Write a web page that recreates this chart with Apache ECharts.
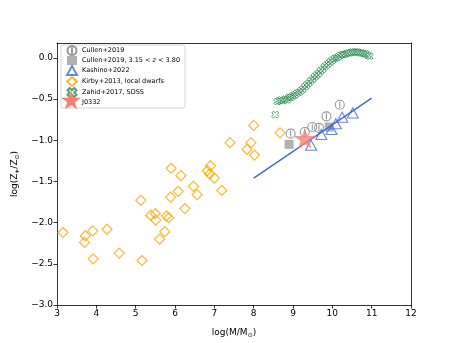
<!DOCTYPE html>
<html>
<head>
<meta charset="utf-8">
<script src="https://cdn.jsdelivr.net/npm/echarts@6/dist/echarts.min.js"></script>
<style>
    html, body {margin: 0; padding: 0; background: #fff;}
    #main {width: 457px; height: 343px;}
</style>
</head>
<body>
<div id="main"></div>
<script>
// 数据
let cullen = [[8.94, -0.92], [9.30, -0.90], [9.49, -0.84], [9.66, -0.85], [9.85, -0.71], [10.19, -0.57]];
let cullenHighZ = [[8.90, -1.05], [9.92, -0.84]];
let kashino = [[9.46, -1.06], [9.72, -0.93], [9.98, -0.87], [10.09, -0.80], [10.25, -0.72], [10.52, -0.67]];
let kashinoFit = [[8.0, -1.46], [11.0, -0.49]];
let kirby = [
    [3.15, -2.12], [3.72, -2.16], [3.70, -2.24], [3.91, -2.10], [3.92, -2.44], [4.27, -2.08],
    [4.58, -2.37], [5.13, -1.73], [5.16, -2.46], [5.38, -1.91], [5.50, -1.89], [5.51, -1.97],
    [5.74, -2.11], [5.61, -2.20], [5.78, -1.92], [5.84, -1.94], [5.90, -1.34], [5.89, -1.69],
    [6.15, -1.43], [6.08, -1.62], [6.25, -1.83], [6.47, -1.56], [6.56, -1.66], [6.82, -1.37],
    [6.90, -1.31], [6.88, -1.41], [7.00, -1.46], [7.19, -1.61], [7.40, -1.03], [7.83, -1.11],
    [7.93, -1.03], [8.00, -0.82], [8.02, -1.18], [8.67, -0.91]
];
let zahid = [
    [8.55, -0.69], [8.60, -0.53], [8.65, -0.52], [8.70, -0.51], [8.75, -0.52], [8.80, -0.50],
    [8.85, -0.51], [8.90, -0.48], [8.95, -0.48], [9.00, -0.46], [9.05, -0.45], [9.10, -0.43],
    [9.15, -0.42], [9.20, -0.40], [9.25, -0.38], [9.30, -0.35], [9.35, -0.33], [9.40, -0.31],
    [9.45, -0.28], [9.50, -0.26], [9.55, -0.23], [9.60, -0.21], [9.65, -0.19], [9.70, -0.16],
    [9.75, -0.14], [9.80, -0.11], [9.85, -0.09], [9.90, -0.07], [9.95, -0.05], [10.00, -0.03],
    [10.05, -0.01], [10.10, 0.00], [10.15, 0.01], [10.20, 0.03], [10.25, 0.04], [10.30, 0.04],
    [10.35, 0.05], [10.40, 0.06], [10.45, 0.06], [10.50, 0.07], [10.55, 0.07], [10.60, 0.07],
    [10.65, 0.07], [10.70, 0.06], [10.75, 0.06], [10.80, 0.05], [10.85, 0.05], [10.90, 0.03],
    [10.95, 0.02]
];
let j0332 = [[9.30, -0.98]];
let yTicks = [-3.0, -2.5, -2.0, -1.5, -1.0, -0.5, 0.0];

let font = 'DejaVu Sans';
let starPath = 'path://M0,-50L11.23,-15.45L47.55,-15.45L18.17,5.9L29.39,40.45L0,19.1L-29.39,40.45L-18.17,5.9L-47.55,-15.45L-11.23,-15.45Z';
let circlePath = 'path://M0,-5A5,5 0 1,1 0,5A5,5 0 1,1 0,-5ZM0,-3.6L0,3.6';
let xPath = 'path://M-2,-4L0,-2L2,-4L4,-2L2,0L4,2L2,4L0,2L-2,4L-4,2L-2,0L-4,-2Z';
let clear = 'rgba(0,0,0,0)';

let myChart = echarts.init(document.getElementById('main'), null, {renderer: 'canvas'});

function fmt(v) {
    return v.toFixed(1).replace('-', '\u2212');
}

// 图例里的大星形（五角星顶点）
function starPoints(cx, cy, r) {
    let pts = [];
    for (let k = 0; k < 10; k++) {
        let a = (-90 + k * 36) * Math.PI / 180;
        let rr = k % 2 === 0 ? r : r * 0.382;
        pts.push([cx + rr * Math.cos(a), cy + rr * Math.sin(a)]);
    }
    return pts;
}

let option = {
    animation: false,
    backgroundColor: '#fff',
    textStyle: {fontFamily: font},
    grid: {left: 57, top: 43, width: 354, height: 262, containLabel: false},
    legend: {
        orient: 'vertical',
        left: 61,
        top: 45,
        padding: [0, 5, 1, 5],
        itemGap: 0,
        itemWidth: 10,
        itemHeight: 9,
        backgroundColor: 'rgba(255,255,255,0.8)',
        borderColor: '#cccccc',
        borderWidth: 0.8,
        borderRadius: 2,
        textStyle: {
            fontFamily: font, fontSize: 6.5, color: '#000', lineHeight: 9,
            rich: {
                n: {fontFamily: font, fontSize: 6.5, color: '#000', lineHeight: 9},
                i: {fontFamily: font, fontSize: 6.5, color: '#000', fontStyle: 'italic', lineHeight: 9}
            }
        },
        formatter: function (name) {
            if (name === 'Cullen+2019, 3.15 < z < 3.80') {
                return '{n|Cullen+2019, 3.15 < }{i|z}{n| < 3.80}';
            }
            return name;
        },
        data: ['Cullen+2019', 'Cullen+2019, 3.15 < z < 3.80', 'Kashino+2022',
            'Kirby+2013, local dwarfs', 'Zahid+2017, SDSS', 'J0332']
    },
    graphic: [{
        type: 'polygon', z: 200,
        shape: {points: starPoints(71, 101, 10.5)},
        style: {fill: '#fa8072'}
    }],
    xAxis: [
        {
            type: 'value', min: 3, max: 12, interval: 1, position: 'bottom',
            name: 'log(M/M{s|\u2299})', nameLocation: 'middle', nameGap: 22,
            nameTextStyle: {fontFamily: font, fontSize: 9, color: '#000',
                rich: {s: {fontFamily: font, fontSize: 6, color: '#000', padding: [5, 0, 0, 0]}}},
            splitLine: {show: false},
            axisLine: {show: true, onZero: false, lineStyle: {color: '#000', width: 0.8}},
            axisTick: {show: true, inside: false, length: 3.5, lineStyle: {color: '#000', width: 0.8}},
            axisLabel: {fontFamily: font, fontSize: 9, color: '#000', margin: 4}
        },
        {
            type: 'value', min: 3, max: 12, position: 'top',
            splitLine: {show: false},
            axisLine: {show: true, onZero: false, lineStyle: {color: '#000', width: 0.8}},
            axisTick: {show: false}, axisLabel: {show: false}
        }
    ],
    yAxis: [
        {
            type: 'value', min: -3, max: 0.18, position: 'left',
            name: 'log(Z{s|\u2217}/Z{s|\u2299})', nameLocation: 'middle', nameGap: 37, nameRotate: 90,
            nameTextStyle: {fontFamily: font, fontSize: 9, color: '#000',
                rich: {s: {fontFamily: font, fontSize: 6, color: '#000', padding: [5, 0, 0, 0]}}},
            splitLine: {show: false},
            axisLine: {show: true, onZero: false, lineStyle: {color: '#000', width: 0.8}},
            axisTick: {show: true, inside: false, length: 3.5, customValues: yTicks,
                lineStyle: {color: '#000', width: 0.8}},
            axisLabel: {fontFamily: font, fontSize: 9, color: '#000', margin: 4,
                customValues: yTicks, formatter: fmt}
        },
        {
            type: 'value', min: -3, max: 0.18, position: 'right',
            splitLine: {show: false},
            axisLine: {show: true, onZero: false, lineStyle: {color: '#000', width: 0.8}},
            axisTick: {show: false}, axisLabel: {show: false}
        }
    ],
    series: [
        {
            name: 'Cullen+2019', type: 'scatter', data: cullen,
            symbol: circlePath, symbolSize: 9, z: 3,
            itemStyle: {color: clear, borderColor: '#808080', borderWidth: 1.1}
        },
        {
            name: 'Cullen+2019, 3.15 < z < 3.80', type: 'scatter', data: cullenHighZ,
            symbol: 'rect', symbolSize: 9, z: 3,
            itemStyle: {color: '#a9a9a9', opacity: 0.9}
        },
        {
            name: 'Kashino+2022', type: 'scatter', data: kashino,
            symbol: 'triangle', symbolSize: [11, 10], z: 4,
            itemStyle: {color: clear, borderColor: '#4169e1', borderWidth: 1.1}
        },
        {
            name: 'Kashino fit', type: 'line', data: kashinoFit,
            symbol: 'none', z: 4,
            lineStyle: {color: '#4169e1', width: 1.5}
        },
        {
            name: 'Kirby+2013, local dwarfs', type: 'scatter', data: kirby,
            symbol: 'diamond', symbolSize: 10, z: 3,
            itemStyle: {color: clear, borderColor: '#ffa500', borderWidth: 1.2}
        },
        {
            name: 'Zahid+2017, SDSS', type: 'scatter', data: zahid,
            symbol: xPath, symbolSize: 7, z: 3,
            itemStyle: {color: clear, borderColor: '#2e8b57', borderWidth: 1}
        },
        {
            name: 'J0332', type: 'scatter', data: j0332,
            symbol: starPath, symbolSize: [22, 21], z: 5,
            itemStyle: {color: '#fa8072'}
        }
    ]
};
myChart.setOption(option);
</script>
</body>
</html>
